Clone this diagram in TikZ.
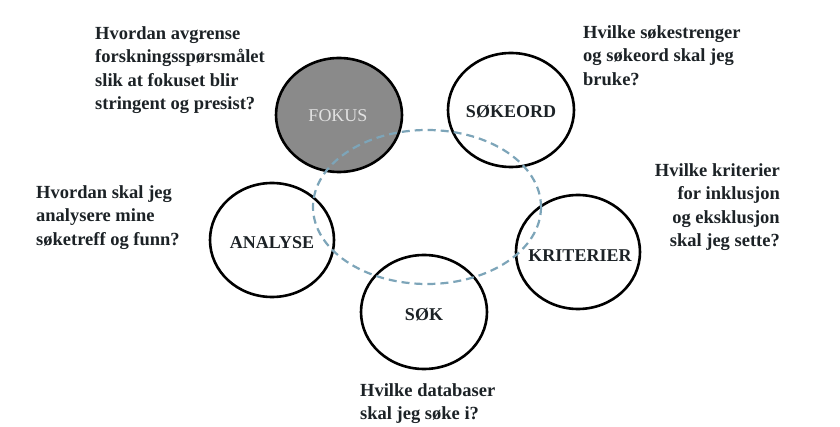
\documentclass[tikz,border=0pt]{standalone}
\usepackage{fontspec}
\setmainfont{Liberation Serif}
\begin{document}
\begin{tikzpicture}[x=1pt,y=-1pt,
  txt/.style={inner sep=0pt, font=\fontsize{18.5}{23.5}\selectfont\bfseries, text=qcol},
  lbl/.style={inner sep=0pt, font=\fontsize{18}{22}\selectfont\bfseries, text=qcol},
  ring/.style={draw=black, line width=2.6pt},
  loop/.style={draw=dashcol, line width=2.2pt, dash pattern=on 8pt off 5pt}]
\definecolor{qcol}{RGB}{28,34,38}
\definecolor{dashcol}{RGB}{125,165,185}
\definecolor{fokfill}{RGB}{138,138,138}
\definecolor{foktext}{RGB}{225,225,225}
\useasboundingbox (0,0) rectangle (840,427);
\fill[white] (0,0) rectangle (840,427);
% circles
\draw[ring, fill=fokfill] (339,115) ellipse [x radius=63, y radius=57];
\draw[ring] (511,110) ellipse [x radius=63, y radius=57];
\draw[ring] (272,240) ellipse [x radius=62, y radius=57];
\draw[ring] (424,312) ellipse [x radius=63, y radius=57];
\draw[ring] (578,252) ellipse [x radius=62, y radius=57];
% dashed loop
\coordinate (lc) at (427,207);
\draw[loop] (lc) ellipse [x radius=114, y radius=77];
% labels
\node[lbl, text=foktext, font=\fontsize{18}{22}\selectfont] (fokus) at (338,116) {FOKUS};
\node[lbl] (sokeord) at (511,112) {SØKEORD};
\node[lbl] (analyse) at (272,243) {ANALYSE};
\node[lbl] (sok) at (424,315) {SØK};
\node[lbl] (kriterier) at (580,256) {KRITERIER};
% questions
\node[txt, anchor=north west, align=left] (q1) at (95,26) {Hvordan avgrense\\forskningsspørsmålet\\slik at fokuset blir\\stringent og presist?};
\node[txt, anchor=north west, align=left] (q2) at (583,25) {Hvilke søkestrenger\\og søkeord skal jeg\\bruke?};
\node[txt, anchor=north east, align=right] (q3) at (780,163) {Hvilke kriterier\\for inklusjon\\og eksklusjon\\skal jeg sette?};
\node[txt, anchor=north west, align=left] (q4) at (36,185) {Hvordan skal jeg\\analysere mine\\søketreff og funn?};
\node[txt, anchor=north west, align=left] (q5) at (360,383) {Hvilke databaser\\skal jeg søke i?};
\end{tikzpicture}
\end{document}
